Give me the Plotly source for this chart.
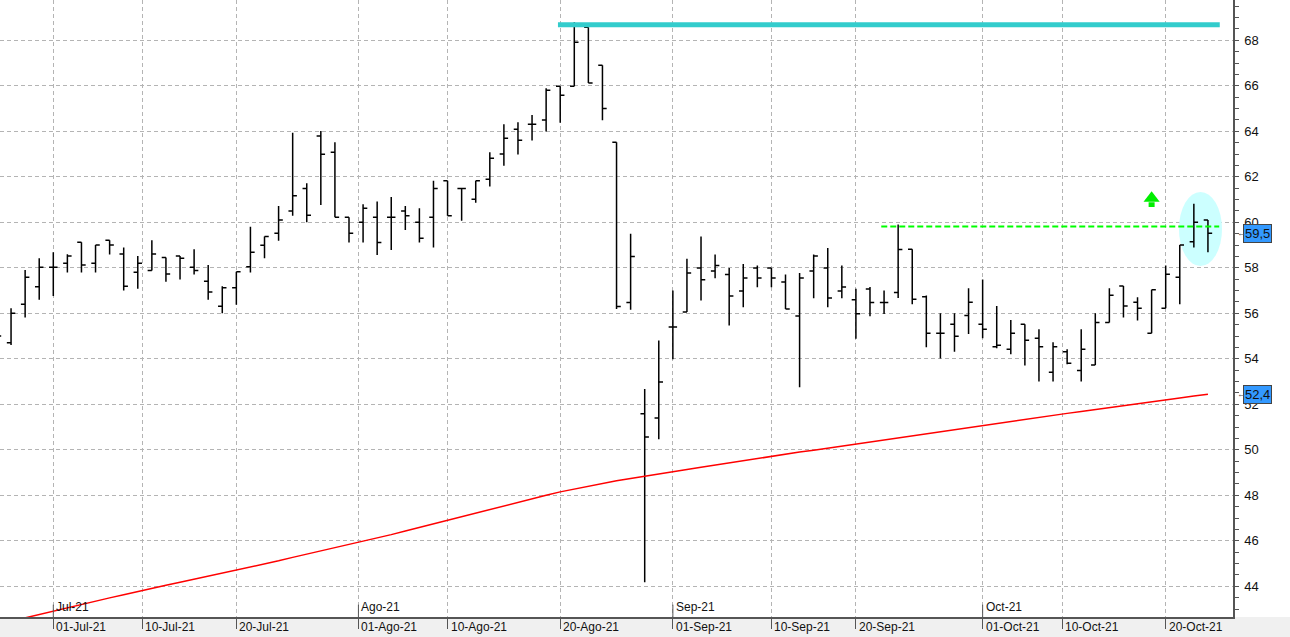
import plotly.graph_objects as go

# bar position = trading-day index (0 = 01-Jul-21)
bar_idx = list(range(-4, 83))

opens = [54.9, 54.7, 56.40, 57.17, 58.02, 58.20, 59.12, 58.20, 59.21, 58.61,
         57.80, 57.88, 58.45, 58.52, 58.02, 57.41, 56.31, 57.12, 58.04, 58.99,
         59.52, 60.50, 61.49, 63.79, 63.08, 60.22, 60.00, 60.22, 60.22, 60.50,
         60.00, 60.22, 61.82, 61.49, 61.01, 61.89, 63.00, 64.09, 64.31, 64.50,
         65.98, 65.98, 68.57, 66.90, 63.52, 56.47, 51.58, 51.40, 55.40, 56.06,
         57.99, 57.86, 57.70, 56.98, 57.99, 57.99, 57.38, 55.88, 57.86, 57.99,
         56.98, 56.60, 57.07, 56.47, 56.91, 58.81, 56.73, 55.12, 55.52, 55.90,
         55.52, 54.53, 54.42, 55.52, 54.90, 53.41, 54.31, 53.49, 53.73, 55.60,
         57.20, 56.48, 55.12, 56.22, 57.58, 59.14, 60.10]
highs = [55.4, 56.22, 57.90, 58.42, 58.68, 58.59, 59.12, 59.00, 59.21, 58.89,
         58.52, 59.21, 58.45, 58.52, 58.81, 58.12, 57.19, 57.83, 59.80, 59.38,
         60.72, 63.94, 61.71, 64.01, 63.52, 60.22, 60.79, 60.91, 61.11, 60.72,
         60.62, 61.82, 61.82, 61.49, 61.82, 63.08, 64.31, 64.40, 64.72, 65.89,
         65.98, 68.79, 68.57, 66.90, 63.52, 59.50, 52.67, 54.80, 57.00, 58.40,
         59.37, 58.58, 57.99, 58.17, 58.10, 57.99, 57.70, 57.77, 58.58, 58.87,
         58.10, 57.08, 57.16, 57.00, 59.90, 58.81, 56.78, 56.00, 56.00, 57.10,
         57.49, 56.32, 55.71, 55.52, 55.30, 54.73, 54.42, 55.30, 56.00, 57.10,
         57.20, 56.70, 57.03, 58.10, 59.00, 60.81, 60.10]
lows = [54.4, 54.61, 55.81, 56.59, 56.76, 57.79, 57.79, 57.79, 58.58, 57.00,
        57.08, 57.88, 57.39, 57.48, 57.70, 56.60, 56.00, 56.37, 57.79, 58.42,
        59.19, 60.29, 60.00, 60.76, 60.22, 59.11, 59.11, 58.56, 58.78, 59.66,
        59.11, 58.89, 60.29, 60.07, 60.86, 61.57, 62.49, 62.98, 63.59, 63.99,
        64.38, 65.98, 66.12, 64.48, 56.19, 56.16, 44.18, 50.46, 53.98, 56.06,
        56.56, 57.54, 55.46, 56.26, 57.14, 57.14, 56.19, 52.75, 56.66, 56.26,
        56.66, 54.88, 55.87, 55.97, 56.67, 56.40, 54.51, 54.01, 54.31, 55.09,
        54.90, 54.46, 54.20, 53.70, 53.00, 53.00, 53.76, 53.00, 53.73, 55.60,
        55.81, 55.68, 55.12, 56.22, 56.40, 58.89, 58.68]
closes = [55.0, 56.0, 57.58, 58.02, 58.02, 58.52, 58.12, 59.00, 59.00, 57.19,
          58.20, 58.61, 57.73, 58.42, 57.88, 56.94, 57.12, 57.83, 58.68, 59.38,
          60.10, 61.17, 60.31, 62.99, 60.22, 59.52, 60.62, 59.11, 60.22, 60.29,
          59.30, 61.49, 60.29, 61.49, 61.82, 62.81, 63.69, 63.60, 64.31, 65.80,
          65.58, 67.91, 66.12, 65.00, 56.30, 58.50, 50.56, 52.98, 55.40, 57.77,
          57.47, 58.10, 56.76, 57.55, 57.55, 57.55, 56.19, 57.55, 58.52, 56.67,
          57.16, 55.98, 56.47, 56.47, 58.80, 56.62, 55.12, 55.12, 54.99, 56.48,
          55.30, 54.59, 55.12, 54.81, 54.53, 54.53, 53.80, 54.42, 55.60, 56.79,
          56.32, 56.22, 57.03, 57.72, 59.00, 60.00, 59.52]

# moving average (red line)
ma_values = [42.32, 42.47, 42.62, 42.76, 42.90, 43.05, 43.19, 43.34, 43.49, 43.63,
             43.78, 43.92, 44.05, 44.18, 44.31, 44.44, 44.57, 44.70, 44.84, 44.98,
             45.12, 45.27, 45.41, 45.55, 45.69, 45.83, 45.98, 46.12, 46.27, 46.43,
             46.59, 46.75, 46.91, 47.07, 47.22, 47.38, 47.53, 47.69, 47.84, 48.00,
             48.15, 48.28, 48.41, 48.53, 48.64, 48.74, 48.83, 48.93, 49.03, 49.13,
             49.23, 49.33, 49.43, 49.53, 49.63, 49.72, 49.81, 49.90, 49.98, 50.07,
             50.16, 50.25, 50.35, 50.45, 50.55, 50.64, 50.72, 50.81, 50.90, 50.99,
             51.07, 51.16, 51.25, 51.33, 51.42, 51.51, 51.60, 51.68, 51.77, 51.86,
             51.94, 52.03, 52.12, 52.20, 52.28, 52.36, 52.44]

date_pos = [0, 6.33, 13, 21.67, 28, 36, 44, 51, 57, 66, 71.67, 79]
date_labels = ["01-Jul-21", "10-Jul-21", "20-Jul-21", "01-Ago-21", "10-Ago-21", "20-Ago-21",
               "01-Sep-21", "10-Sep-21", "20-Sep-21", "01-Oct-21", "10-Oct-21", "20-Oct-21"]
month_pos = [0, 21.67, 44, 66]
month_labels = ["Jul-21", "Ago-21", "Sep-21", "Oct-21"]

resistance = 68.68
breakout = 59.81
last_close = 59.52
last_ma = 52.44
signal_x = 78
signal_head = 61.06
signal_stem = [60.67, 60.88]

FONT = "Liberation Sans"
AXIS = "#555555"
GRID = "#b4b4b4"

fig = go.Figure()

fig.add_trace(go.Scatter(
    x=bar_idx, y=ma_values, mode="lines",
    line=dict(color="#ff0000", width=1.5),
    hoverinfo="skip", showlegend=False,
))

fig.add_trace(go.Ohlc(
    x=bar_idx, open=opens, high=highs, low=lows, close=closes,
    increasing=dict(line=dict(color="black", width=1.5)),
    decreasing=dict(line=dict(color="black", width=1.5)),
    tickwidth=0.3, showlegend=False,
))

# green up arrow
fig.add_trace(go.Scatter(
    x=[signal_x, signal_x], y=signal_stem, mode="lines",
    line=dict(color="#00ee00", width=6), hoverinfo="skip", showlegend=False,
))
fig.add_trace(go.Scatter(
    x=[signal_x], y=[signal_head], mode="markers",
    marker=dict(symbol="triangle-up", size=14, color="#00ee00", line=dict(width=0)),
    hoverinfo="skip", showlegend=False,
))

shapes = [
    # bottom band
    dict(type="rect", xref="paper", yref="paper", x0=0, x1=1.05, y0=-0.04, y1=0,
         fillcolor="#f0f0f0", line=dict(width=0), layer="below"),
    # highlight ellipse
    dict(type="circle", xref="x", yref="y", x0=79.94, x1=83.0, y0=58.08, y1=61.33,
         fillcolor="#ccffff", line=dict(width=0), layer="between"),
    # resistance
    dict(type="line", xref="x", yref="y", x0=35.84, x1=82.84, y0=resistance, y1=resistance,
         line=dict(color="#33cccc", width=5), layer="above"),
    # breakout level
    dict(type="line", xref="x", yref="y", x0=58.8, x1=82.8, y0=breakout, y1=breakout,
         line=dict(color="#00ff00", width=2, dash="6px,3px"), layer="above"),
]
for p in month_pos:
    shapes.append(dict(type="line", xref="x", yref="paper", x0=p, x1=p, y0=0, y1=0.02,
                       line=dict(color=AXIS, width=1)))

annotations = []
for p, t in zip(date_pos, date_labels):
    annotations.append(dict(x=p, y=0, xref="x", yref="paper", text=t, showarrow=False,
                            xanchor="left", yanchor="top", xshift=1, yshift=-1,
                            font=dict(family=FONT, size=12, color="#111")))
for p, t in zip(month_pos, month_labels):
    annotations.append(dict(x=p, y=0, xref="x", yref="paper", text=t, showarrow=False,
                            xanchor="left", yanchor="bottom", xshift=1, yshift=1,
                            font=dict(family=FONT, size=12, color="#111")))
for v, t in [(last_close, "59,5"), (last_ma, "52,4")]:
    annotations.append(dict(x=1.008, y=v, xref="paper", yref="y", text=t, showarrow=False,
                            xanchor="left", yanchor="middle", bgcolor="#3399ff",
                            bordercolor="#444", borderwidth=1, borderpad=1,
                            font=dict(family=FONT, size=13, color="#111")))
    annotations.append(dict(x=1.0015, y=v, xref="paper", yref="y", text="←", showarrow=False,
                            xanchor="left", yanchor="middle",
                            font=dict(family=FONT, size=9, color="#555")))

fig.update_layout(
    width=1290, height=637,
    margin=dict(l=0, r=57, t=0, b=20, pad=0),
    paper_bgcolor="white", plot_bgcolor="white",
    shapes=shapes, annotations=annotations,
    xaxis=dict(range=[-3.785, 83.78], tickvals=date_pos, showticklabels=False,
               ticks="outside", ticklen=10, tickcolor=AXIS,
               showgrid=True, gridcolor=GRID, griddash="4px,3px", gridwidth=1,
               showline=True, linecolor=AXIS, linewidth=1.5, zeroline=False,
               rangeslider=dict(visible=False), fixedrange=True),
    yaxis=dict(range=[42.65, 69.77], side="right", dtick=2, tick0=0,
               ticks="outside", ticklen=4, tickcolor=AXIS,
               minor=dict(dtick=0.5, ticks="outside", ticklen=4, tickcolor=AXIS, showgrid=False),
               showgrid=True, gridcolor=GRID, griddash="4px,3px", gridwidth=1,
               showline=True, linecolor=AXIS, linewidth=1.5, zeroline=False,
               tickfont=dict(family=FONT, size=13, color="#111"), ticklabelstandoff=3),
)

fig.write_html("out.html", config={"displayModeBar": False},
               post_script="document.body.style.margin='0';document.body.style.overflow='hidden';")
